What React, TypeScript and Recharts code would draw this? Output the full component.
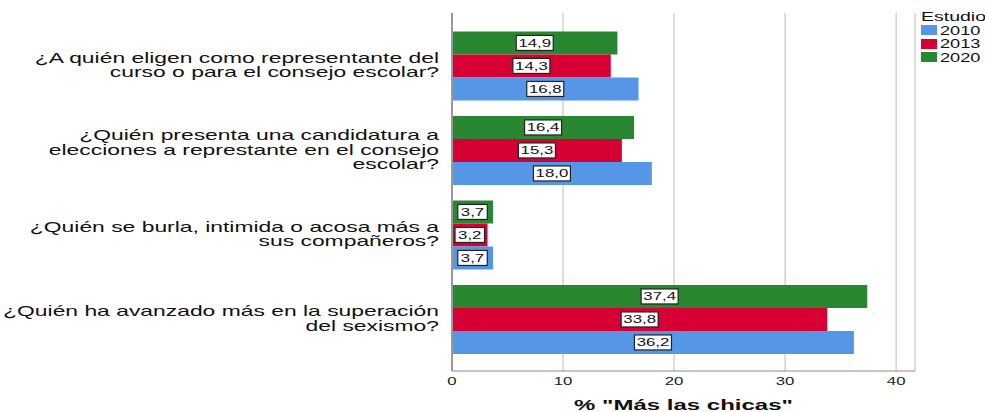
import React from 'react';
import { BarChart, Bar, XAxis, YAxis, CartesianGrid, LabelList, Label } from 'recharts';

const CATEGORIES = [
    '¿A quién eligen como representante del\ncurso o para el consejo escolar?',
    '¿Quién presenta una candidatura a\nelecciones a represtante en el consejo\nescolar?',
    '¿Quién se burla, intimida o acosa más a\nsus compañeros?',
    '¿Quién ha avanzado más en la superación\ndel sexismo?',
];
const VALUES_2010 = [16.8, 18.0, 3.7, 36.2];
const VALUES_2013 = [14.3, 15.3, 3.2, 33.8];
const VALUES_2020 = [14.9, 16.4, 3.7, 37.4];
const X_TICKS = [0, 10, 20, 30, 40];

// legend order: 2010, 2013, 2020
const SERIES = [
    { key: '2010', color: '#5597e6' },
    { key: '2013', color: '#d70034' },
    { key: '2020', color: '#2a8731' },
];

const data = CATEGORIES.map((name, i) => ({
    name,
    '2010': VALUES_2010[i],
    '2013': VALUES_2013[i],
    '2020': VALUES_2020[i],
}));

const FONT = '"Liberation Sans", Arial, sans-serif';
const SX = 1.6; // the original is stretched horizontally

const fmt = (v: number) => v.toFixed(1).replace('.', ',');

const CategoryTick = (props: any) => {
    const { x, y, payload } = props;
    const lines: string[] = String(payload.value).split('\n');
    const lh = 14.5;
    const startY = y - ((lines.length - 1) * lh) / 2;
    return (
        <g>
            {lines.map((line, i) => (
                <text
                    key={i}
                    transform={`translate(${x - 5}, ${startY + i * lh}) scale(${SX},1)`}
                    textAnchor="end"
                    dominantBaseline="central"
                    fontFamily={FONT}
                    fontSize={14.3}
                    fill="#111"
                >
                    {line}
                </text>
            ))}
        </g>
    );
};

const ValueTick = (props: any) => {
    const { x, y, payload } = props;
    return (
        <text transform={`translate(${x}, ${y + 6}) scale(${SX},1)`} textAnchor="middle" fontFamily={FONT} fontSize={10.5} fill="#222">
            {payload.value}
        </text>
    );
};

const BoxLabel = (props: any) => {
    const { x, y, width, height, value } = props;
    const cx = x + width / 2;
    const cy = y + height / 2;
    const txt = fmt(value);
    const w = txt.length * 7.5 + 7;
    return (
        <g>
            <rect x={cx - w / 2} y={cy - 7.5} width={w} height={15} fill="#fff" stroke="#222" strokeWidth={1.2} />
            <text transform={`translate(${cx}, ${cy + 4}) scale(${SX},1)`} textAnchor="middle" fontFamily={FONT} fontSize={10.5} fill="#111">
                {txt}
            </text>
        </g>
    );
};

const LegendBox = () => (
    <div style={{ position: 'absolute', left: 921, top: 10, fontFamily: FONT, fontSize: 13, color: '#111', lineHeight: '13.5px' }}>
        <div style={{ transform: `scaleX(1.5)`, transformOrigin: 'left', whiteSpace: 'nowrap' }}>Estudio</div>
        {SERIES.map((s) => (
            <div key={s.key} style={{ display: 'flex', alignItems: 'center' }}>
                <span style={{ display: 'inline-block', width: 16, height: 10, background: s.color, marginRight: 3 }} />
                <span style={{ display: 'inline-block', transform: `scaleX(1.4)`, transformOrigin: 'left' }}>{s.key}</span>
            </div>
        ))}
    </div>
);

export default function App() {
    return (
        <div style={{ position: 'absolute', left: 0, top: 0, width: 985, height: 412, background: '#fff' }}>
            <BarChart
                width={985}
                height={412}
                data={data}
                layout="vertical"
                margin={{ top: 13, right: 70, bottom: 0, left: 0 }}
                barCategoryGap="10%"
                barGap={0}
            >
                <CartesianGrid horizontal={false} stroke="#d2d2d2" strokeWidth={1.5} />
                <XAxis
                    type="number"
                    domain={[0, 41.7]}
                    ticks={X_TICKS}
                    allowDataOverflow
                    tickLine={false}
                    stroke="#8a8a8a"
                    tick={<ValueTick />}
                    height={41}
                >
                    <Label
                        content={(p: any) => {
                            const vb = p.viewBox;
                            return (
                                <text
                                    transform={`translate(${vb.x + vb.width / 2}, ${410}) scale(${SX},1)`}
                                    textAnchor="middle"
                                    fontFamily={FONT}
                                    fontSize={15}
                                    fontWeight="bold"
                                    fill="#111"
                                >
                                    % "Más las chicas"
                                </text>
                            );
                        }}
                    />
                </XAxis>
                <YAxis
                    type="category"
                    dataKey="name"
                    width={452}
                    padding={{ top: 10, bottom: 10 }}
                    tickLine={false}
                    axisLine={{ stroke: '#999', strokeWidth: 2 }}
                    tick={<CategoryTick />}
                    interval={0}
                />
                {['2020', '2013', '2010'].map((k) => {
                    const s = SERIES.find((e) => e.key === k)!;
                    return (
                        <Bar key={k} dataKey={k} fill={s.color} isAnimationActive={false}>
                            <LabelList dataKey={k} content={<BoxLabel />} />
                        </Bar>
                    );
                })}
            </BarChart>
            <LegendBox />
        </div>
    );
}
